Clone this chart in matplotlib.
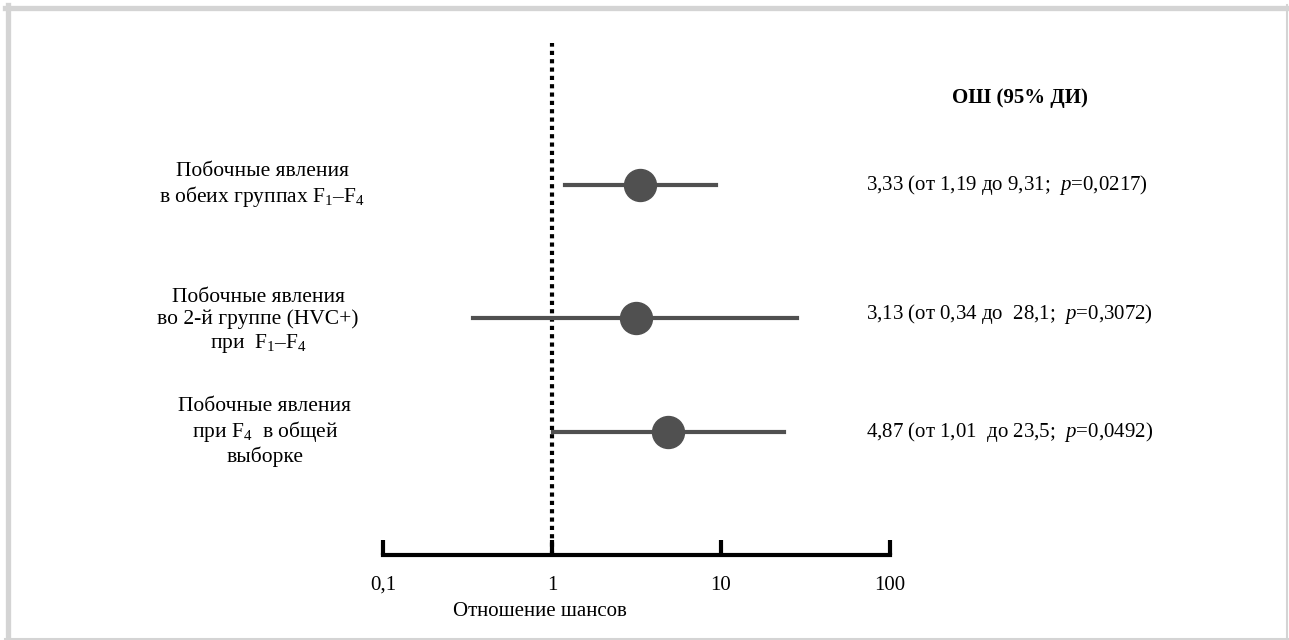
import matplotlib
matplotlib.use("Agg")
import matplotlib.pyplot as plt
from matplotlib.lines import Line2D

# Data
labels = [
    "Побочные явления\nв обеих группах $\\mathrm{F_1}$–$\\mathrm{F_4}$",
    "Побочные явления\nво 2-й группе (HVC+)\nпри  $\\mathrm{F_1}$–$\\mathrm{F_4}$",
    "Побочные явления\nпри $\\mathrm{F_4}$  в общей\nвыборке",
]
odds = [3.33, 3.13, 4.87]
ci_low = [1.19, 0.34, 1.01]
ci_high = [9.31, 28.1, 23.5]
p_values = ["0,0217", "0,3072", "0,0492"]
or_text = ["3,33 (от 1,19 до 9,31;", "3,13 (от 0,34 до  28,1;", "4,87 (от 1,01  до 23,5;"]
ticks = [0.1, 1, 10, 100]
tick_labels = ["0,1", "1", "10", "100"]

# layout
ypos = [3.25, 2.08, 1.08]
label_x = [262, 258, 265]
label_dy = [0, -3, 0]
text_dy = [0, 4, 0]
grey = "#505050"

plt.rcParams['font.family'] = ['Liberation Serif', 'DejaVu Serif']
plt.rcParams['mathtext.fontset'] = 'custom'
plt.rcParams['mathtext.rm'] = 'Liberation Serif'
plt.rcParams['mathtext.it'] = 'Liberation Serif:italic'

W, H = 1289, 640
fig = plt.figure(figsize=(W / 100, H / 100), dpi=100)
ax = fig.add_axes([383 / W, 1 - 555 / H, (890 - 383) / W, (555 - 43) / H])
ax.set_xscale('log')
ax.set_xlim(0.1, 100)
ax.set_ylim(0, 4.5)

ax.axvline(1, color='black', lw=3, linestyle=(0, (1, 1)), zorder=1)

for i in range(len(odds)):
    ax.plot([ci_low[i], ci_high[i]], [ypos[i], ypos[i]], color=grey, lw=3, zorder=2)
    ax.plot(odds[i], ypos[i], 'o', ms=23, color=grey, zorder=3)

for s in ['top', 'left', 'right']:
    ax.spines[s].set_visible(False)
ax.spines['bottom'].set_linewidth(3)
ax.set_yticks([])
ax.set_xticks(ticks)
ax.set_xticklabels(tick_labels, fontsize=15)
ax.minorticks_off()
ax.tick_params(axis='x', direction='in', length=11, width=3, pad=15)

ax.text(0.85, -0.111, "Отношение шансов", transform=ax.get_xaxis_transform(),
        ha='center', va='center', fontsize=15)

# left labels
for i, lab in enumerate(labels):
    yp = ax.transData.transform((1, ypos[i]))[1] / H + label_dy[i] / H
    fig.text(label_x[i] / W, yp, lab, ha='center', va='center', fontsize=15.5,
             linespacing=1.15)

# right text
fig.text(1020 / W, 1 - 98 / H, "ОШ (95% ДИ)", ha='center', va='center',
         fontsize=15, fontweight='bold')
for i in range(len(odds)):
    yp = ax.transData.transform((1, ypos[i]))[1] / H + text_dy[i] / H
    fig.text(866 / W, yp, or_text[i] + "  $p$=" + p_values[i] + ")",
             ha='left', va='center', fontsize=15)

# frame: thick top/left, thin right/bottom
fc = '#d4d4d4'
fig.add_artist(Line2D([7.5 / W, 7.5 / W], [0, 1 - 5 / H], color=fc, lw=3.8,
                      transform=fig.transFigure))
fig.add_artist(Line2D([5 / W, 1 - 1 / W], [1 - 7.5 / H, 1 - 7.5 / H], color=fc, lw=3.8,
                      transform=fig.transFigure))
fig.add_artist(Line2D([1 - 2 / W, 1 - 2 / W], [0, 1 - 5 / H], color=fc, lw=1.5,
                      transform=fig.transFigure))
fig.add_artist(Line2D([5 / W, 1], [1.5 / H, 1.5 / H], color=fc, lw=1.5,
                      transform=fig.transFigure))

fig.savefig("out.png", dpi=100)
